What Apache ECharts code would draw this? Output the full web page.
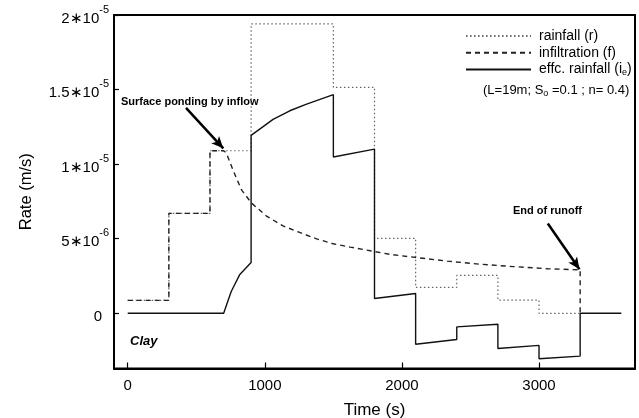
<!DOCTYPE html>
<html><head><meta charset="utf-8">
<script src="https://cdn.jsdelivr.net/npm/echarts@6/dist/echarts.min.js"></script>
<style>html,body{margin:0;padding:0;background:#fff}#c{width:639px;height:418px}</style>
</head><body><div id="c"></div>
<script>
// ---- data ----
const rainStart = [0, 300, 600, 900, 1500, 1800, 2100, 2400, 2700, 3000];
const rainEnd   = [300, 600, 900, 1500, 1800, 2100, 2400, 2700, 3000, 3300];
const rainfall  = [0.87e-6, 6.70e-6, 1.09e-5, 1.94e-5, 1.515e-5, 5.03e-6, 1.74e-6, 2.54e-6, 0.89e-6, 0];

const infilTime = [0, 300, 300, 600, 600, 700, 720, 767, 829, 902, 1012, 1133, 1255, 1378, 1499, 1622, 1805, 1914, 2105, 2330, 2573, 2817, 3061, 3300, 3300];
const infilRate = [0.87e-6, 0.87e-6, 6.70e-6, 6.70e-6, 1.09e-5, 1.09e-5, 1.074e-5, 9.62e-6, 8.29e-6, 7.40e-6, 6.52e-6, 5.86e-6, 5.42e-6, 4.99e-6, 4.66e-6, 4.44e-6, 4.13e-6, 3.95e-6, 3.74e-6, 3.50e-6, 3.29e-6, 3.13e-6, 2.99e-6, 2.91e-6, 0];

const effTime = [0, 700, 725, 755, 816, 900, 900, 1060, 1182, 1305, 1500, 1500, 1800, 1800, 2100, 2100, 2400, 2400, 2700, 2700, 3000, 3000, 3300, 3300, 3600];
const effRate = [0, 0, 0.67e-6, 1.46e-6, 2.58e-6, 3.41e-6, 1.193e-5, 1.30e-5, 1.358e-5, 1.403e-5, 1.466e-5, 1.048e-5, 1.101e-5, 0.99e-6, 1.33e-6, -2.07e-6, -1.76e-6, -0.91e-6, -0.73e-6, -2.36e-6, -2.15e-6, -3.05e-6, -2.87e-6, 0, 0];

const xTicks = [0, 1000, 2000, 3000];
const yTicks = [0, 5e-6, 1e-5, 1.5e-5, 2e-5];
const yTickMant = ['0', '5∗10', '1∗10', '1.5∗10', '2∗10'];
const yTickExp  = ['', '-6', '-5', '-5', '-5'];

const seriesNames = ['rainfall (r)', 'infiltration (f)', 'effc. rainfall (ie)'];

// ---- build series data ----
const rainData = [];
rainStart.forEach((s, i) => { rainData.push([s, rainfall[i]]); rainData.push([rainEnd[i], rainfall[i]]); });
const infilData = infilTime.map((t, i) => [t, infilRate[i]]);
const effData = effTime.map((t, i) => [t, effRate[i]]);

const FONT = '"Liberation Sans", Arial, Helvetica, sans-serif';
const chart = echarts.init(document.getElementById('c'), null, {renderer: 'canvas'});

chart.setOption({
  animation: false,
  backgroundColor: '#fff',
  textStyle: {fontFamily: FONT, color: '#000'},
  grid: {left: 114, right: 4, top: 15, bottom: 49.5, show: true, borderColor: '#000', borderWidth: 2,
    containLabel: false, outerBoundsMode: 'none'},
  xAxis: {
    type: 'value', min: -100, max: 3700,
    name: 'Time (s)', nameLocation: 'middle', nameGap: 33,
    nameTextStyle: {fontSize: 17, color: '#000', fontFamily: FONT},
    axisLine: {show: true, onZero: false, lineStyle: {color: '#000', width: 2}},
    axisTick: {show: true, inside: true, length: 6, customValues: xTicks, lineStyle: {color: '#000', width: 1.2}},
    axisLabel: {customValues: xTicks, margin: 10, fontSize: 15, color: '#000', fontFamily: FONT,
      formatter: function (v) { return String(v); }},
    splitLine: {show: false}
  },
  yAxis: {
    type: 'value', min: -3.7e-6, max: 2e-5,
    name: 'Rate (m/s)', nameLocation: 'middle', nameGap: 79, nameRotate: 90,
    nameTextStyle: {fontSize: 16.5, color: '#000', fontFamily: FONT},
    axisLine: {show: true, onZero: false, lineStyle: {color: '#000', width: 2}},
    axisTick: {show: true, inside: true, length: 5, customValues: yTicks, lineStyle: {color: '#000', width: 1.2}},
    axisLabel: {
      customValues: yTicks, margin: 5, fontFamily: FONT,
      formatter: function (v) {
        const i = yTicks.findIndex(t => Math.abs(t - v) < 1e-9);
        if (i < 0) return '';
        if (yTickExp[i] === '') return '{b|' + yTickMant[i] + '}{g| }';
        return '{b|' + yTickMant[i] + '}{s|' + yTickExp[i] + '}';
      },
      rich: {
        b: {fontSize: 15, color: '#000', fontFamily: FONT, lineHeight: 22, verticalAlign: 'bottom'},
        s: {fontSize: 11, color: '#000', fontFamily: FONT, lineHeight: 11, verticalAlign: 'top'},
        g: {width: 7}
      }
    },
    splitLine: {show: false}
  },
  legend: {
    orient: 'vertical', left: 465, top: 29, padding: 0, itemWidth: 65, itemHeight: 14, itemGap: 2.7,
    data: seriesNames,
    itemStyle: {opacity: 0},
    textStyle: {fontSize: 14, color: '#000', fontFamily: FONT, padding: [0, 0, 0, 3],
      rich: {n: {fontSize: 14, color: '#000', fontFamily: FONT}, sub: {fontSize: 9, color: '#000', fontFamily: FONT, verticalAlign: 'bottom', padding: [6, 0, 0, 0]}}},
    formatter: function (name) {
      if (name === seriesNames[2]) return '{n|effc. rainfall (i}{sub|e}{n|)}';
      return '{n|' + name + '}';
    }
  },
  series: [
    {
      name: seriesNames[0], type: 'line', data: rainData, showSymbol: false, symbol: 'none',
      lineStyle: {color: '#666', width: 1.2, type: [1.5, 2.5]}, itemStyle: {color: '#666'}, z: 2
    },
    {
      name: seriesNames[1], type: 'line', data: infilData, showSymbol: false, symbol: 'none',
      lineStyle: {color: '#222', width: 1.4, type: [5, 4]}, itemStyle: {color: '#222'}, z: 3
    },
    {
      name: seriesNames[2], type: 'line', data: effData, showSymbol: false, symbol: 'none',
      lineStyle: {color: '#111', width: 1.4, type: 'solid'}, itemStyle: {color: '#111'}, z: 4,
      markLine: {
        silent: true, animation: false, symbol: ['none', 'arrow'], symbolSize: [8, 12],
        label: {show: false},
        lineStyle: {color: '#000', width: 2.5, type: 'solid'},
        data: [
          [{coord: [425, 1.377e-5]}, {coord: [697, 1.106e-5]}],
          [{coord: [3064, 6.02e-6]}, {coord: [3295, 2.95e-6]}]
        ]
      }
    }
  ],
  graphic: [
    {type: 'text', left: 121, top: 96, style: {text: 'Surface ponding by inflow', font: 'bold 11px ' + FONT, fill: '#000'}},
    {type: 'text', left: 513, top: 205, style: {text: 'End of runoff', font: 'bold 11px ' + FONT, fill: '#000'}},
    {type: 'text', left: 130, top: 335, style: {text: 'Clay', font: 'italic bold 13px ' + FONT, fill: '#000'}},
    {type: 'text', left: 483, top: 84, style: {
      text: '{n|(L=19m; S}{sub|o}{n| =0.1 ; n= 0.4)}',
      rich: {n: {fontSize: 13, fontFamily: FONT, color: '#000'}, sub: {fontSize: 9, fontFamily: FONT, color: '#000', verticalAlign: 'bottom', padding: [6, 0, 0, 0]}}
    }}
  ]
});
</script>
</body></html>
